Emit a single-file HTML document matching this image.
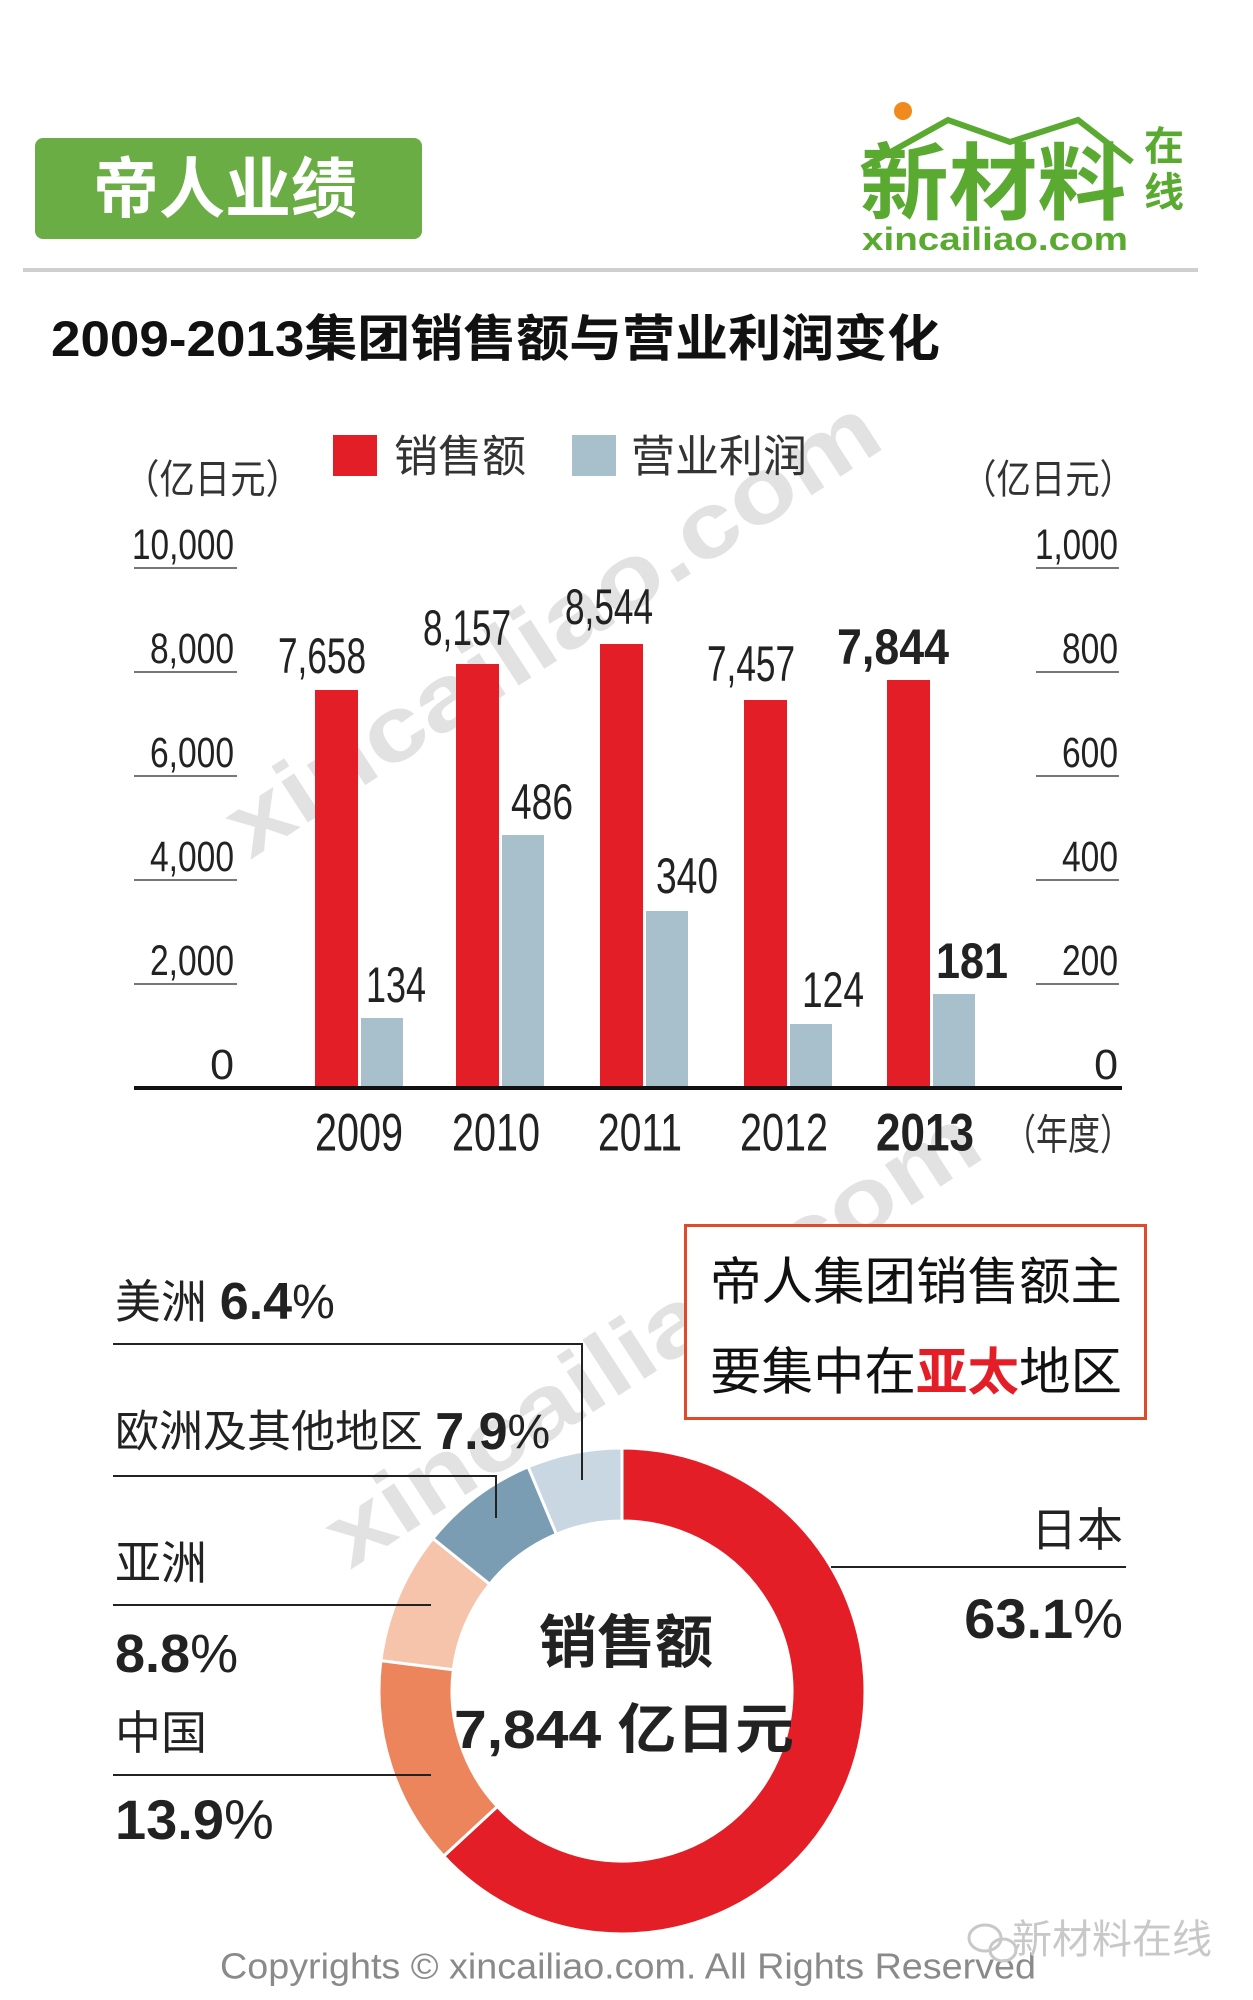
<!DOCTYPE html>
<html><head><meta charset="utf-8"><style>
html,body{margin:0;padding:0;background:#fff;}
svg{display:block;}
text{font-family:"Liberation Sans","Noto Sans CJK SC",sans-serif;}
</style></head><body>
<svg width="1253" height="2000" viewBox="0 0 1253 2000" xmlns="http://www.w3.org/2000/svg">
<rect width="1253" height="2000" fill="#fff"/>
<!-- watermarks -->
<g fill="#e2e2e2" font-weight="bold" font-size="92">
<text x="0" y="0" transform="translate(250,860) rotate(-33)" textLength="760" lengthAdjust="spacingAndGlyphs">xincailiao.com</text>
<text x="0" y="0" transform="translate(350,1570) rotate(-33)" textLength="760" lengthAdjust="spacingAndGlyphs">xincailiao.com</text>
</g>
<!-- header -->
<rect x="35" y="138" width="387" height="101" rx="8" fill="#6aad45"/>
<text x="225" y="189" fill="#fff" font-size="66" font-weight="bold" text-anchor="middle" dominant-baseline="central">帝人业绩</text>
<rect x="23" y="268" width="1175" height="4" fill="#cfcfcf"/>
<!-- logo -->
<polyline points="862,168 948,120 1010,142 1078,120 1132,162" fill="none" stroke="#5aaa32" stroke-width="6"/>
<circle cx="903" cy="111" r="9" fill="#f08a1c"/>
<text x="860" y="213" fill="#5aaa32" font-size="84" font-weight="bold" textLength="266" lengthAdjust="spacingAndGlyphs">新材料</text>
<text x="1164" y="160" fill="#5aaa32" font-size="40" font-weight="bold" text-anchor="middle">在</text>
<text x="1164" y="206" fill="#5aaa32" font-size="40" font-weight="bold" text-anchor="middle">线</text>
<text x="862" y="250" fill="#5aaa32" font-size="32" font-weight="bold" textLength="266" lengthAdjust="spacingAndGlyphs">xincailiao.com</text>
<!-- title -->
<text x="51" y="339" font-size="50" font-weight="bold" fill="#111" dominant-baseline="central" textLength="889" lengthAdjust="spacingAndGlyphs">2009-2013集团销售额与营业利润变化</text>
<!-- legend -->
<rect x="333" y="435" width="44" height="41" fill="#e31e26"/>
<text x="394" y="457" font-size="44" fill="#333" dominant-baseline="central">销售额</text>
<rect x="572" y="435" width="44" height="41" fill="#a8bfcc"/>
<text x="631" y="457" font-size="44" fill="#333" dominant-baseline="central">营业利润</text>
<text x="124" y="480" font-size="40" fill="#333" dominant-baseline="central" textLength="177" lengthAdjust="spacingAndGlyphs">（亿日元）</text>
<text x="962" y="480" font-size="40" fill="#333" dominant-baseline="central" textLength="172" lengthAdjust="spacingAndGlyphs">（亿日元）</text>
<!-- gridlines/ticks -->
<g stroke="#777" stroke-width="2">
<line x1="134" y1="568" x2="237" y2="568"/><line x1="134" y1="672" x2="237" y2="672"/><line x1="134" y1="776" x2="237" y2="776"/><line x1="134" y1="880" x2="237" y2="880"/><line x1="134" y1="984" x2="237" y2="984"/>
<line x1="1036" y1="568" x2="1119" y2="568"/><line x1="1036" y1="672" x2="1119" y2="672"/><line x1="1036" y1="776" x2="1119" y2="776"/><line x1="1036" y1="880" x2="1119" y2="880"/><line x1="1036" y1="984" x2="1119" y2="984"/>
</g>
<g font-size="43" fill="#222" text-anchor="end" dominant-baseline="central">
<text x="234" y="545" textLength="102" lengthAdjust="spacingAndGlyphs">10,000</text>
<text x="234" y="649" textLength="84" lengthAdjust="spacingAndGlyphs">8,000</text>
<text x="234" y="753" textLength="84" lengthAdjust="spacingAndGlyphs">6,000</text>
<text x="234" y="857" textLength="84" lengthAdjust="spacingAndGlyphs">4,000</text>
<text x="234" y="961" textLength="84" lengthAdjust="spacingAndGlyphs">2,000</text>
<text x="234" y="1065">0</text>
<text x="1118" y="545" textLength="83" lengthAdjust="spacingAndGlyphs">1,000</text>
<text x="1118" y="649" textLength="56" lengthAdjust="spacingAndGlyphs">800</text>
<text x="1118" y="753" textLength="56" lengthAdjust="spacingAndGlyphs">600</text>
<text x="1118" y="857" textLength="56" lengthAdjust="spacingAndGlyphs">400</text>
<text x="1118" y="961" textLength="56" lengthAdjust="spacingAndGlyphs">200</text>
<text x="1118" y="1065">0</text>
</g>
<!-- bars -->
<g fill="#e31e26">
<rect x="315" y="690" width="43" height="398"/>
<rect x="456" y="664" width="43" height="424"/>
<rect x="600" y="644" width="43" height="444"/>
<rect x="744" y="700" width="43" height="388"/>
<rect x="887" y="680" width="43" height="408"/>
</g>
<g fill="#a8bfcc">
<rect x="361" y="1018" width="42" height="70"/>
<rect x="502" y="835" width="42" height="253"/>
<rect x="646" y="911" width="42" height="177"/>
<rect x="790" y="1024" width="42" height="64"/>
<rect x="933" y="994" width="42" height="94"/>
</g>
<rect x="134" y="1086" width="988" height="4" fill="#111"/>
<!-- value labels -->
<g font-size="50" fill="#222" text-anchor="middle" dominant-baseline="central">
<text x="322" y="656" textLength="88" lengthAdjust="spacingAndGlyphs">7,658</text>
<text x="467" y="628" textLength="88" lengthAdjust="spacingAndGlyphs">8,157</text>
<text x="609" y="607" textLength="88" lengthAdjust="spacingAndGlyphs">8,544</text>
<text x="751" y="664" textLength="88" lengthAdjust="spacingAndGlyphs">7,457</text>
<text x="893" y="647" font-weight="bold" textLength="112" lengthAdjust="spacingAndGlyphs">7,844</text>
<text x="396" y="985" textLength="60" lengthAdjust="spacingAndGlyphs">134</text>
<text x="542" y="802" textLength="62" lengthAdjust="spacingAndGlyphs">486</text>
<text x="687" y="876" textLength="62" lengthAdjust="spacingAndGlyphs">340</text>
<text x="833" y="990" textLength="62" lengthAdjust="spacingAndGlyphs">124</text>
<text x="972" y="961" font-weight="bold" textLength="72" lengthAdjust="spacingAndGlyphs">181</text>
</g>
<g font-size="53" fill="#222" text-anchor="middle" dominant-baseline="central">
<text x="359" y="1133" textLength="88" lengthAdjust="spacingAndGlyphs">2009</text>
<text x="496" y="1133" textLength="88" lengthAdjust="spacingAndGlyphs">2010</text>
<text x="640" y="1133" textLength="84" lengthAdjust="spacingAndGlyphs">2011</text>
<text x="784" y="1133" textLength="88" lengthAdjust="spacingAndGlyphs">2012</text>
<text x="925" y="1133" font-weight="bold" textLength="98" lengthAdjust="spacingAndGlyphs">2013</text>
</g>
<text x="1004" y="1135" font-size="42" fill="#333" dominant-baseline="central" textLength="128" lengthAdjust="spacingAndGlyphs">（年度）</text>
<!-- info box -->
<rect x="685.5" y="1225.5" width="460" height="193" fill="#fff" stroke="#e04a2a" stroke-width="3"/>
<text x="710" y="1282" font-size="51" fill="#111" dominant-baseline="central" textLength="412" lengthAdjust="spacingAndGlyphs">帝人集团销售额主</text>
<text x="710" y="1372" font-size="51" fill="#111" dominant-baseline="central" textLength="412" lengthAdjust="spacingAndGlyphs">要集中在<tspan fill="#e31e26" font-weight="bold">亚太</tspan>地区</text>
<!-- donut -->
<g stroke="#fff" stroke-width="3">
<path d="M622,1448 A243,243 0 1 1 443.7,1856.1 L497.3,1806.5 A170,170 0 1 0 622,1521 Z" fill="#e31e26"/>
<path d="M443.7,1856.1 A243,243 0 0 1 380.9,1660.6 L453.3,1669.7 A170,170 0 0 0 497.3,1806.5 Z" fill="#ec845c"/>
<path d="M380.9,1660.6 A243,243 0 0 1 432.9,1538.4 L489.7,1584.2 A170,170 0 0 0 453.3,1669.7 Z" fill="#f5c4ab"/>
<path d="M432.9,1538.4 A243,243 0 0 1 528.2,1466.8 L556.4,1534.2 A170,170 0 0 0 489.7,1584.2 Z" fill="#7b9db3"/>
<path d="M528.2,1466.8 A243,243 0 0 1 622,1448 L622,1521 A170,170 0 0 0 556.4,1534.2 Z" fill="#c8d7e2"/>
</g>
<text x="626" y="1643" font-size="58" font-weight="bold" fill="#222" text-anchor="middle" dominant-baseline="central">销售额</text>
<text x="624" y="1730" font-size="54" font-weight="bold" fill="#222" text-anchor="middle" dominant-baseline="central" textLength="340" lengthAdjust="spacingAndGlyphs">7,844 亿日元</text>
<!-- leader lines -->
<g stroke="#222" stroke-width="2" fill="none">
<polyline points="113,1344 582,1344 582,1480"/>
<polyline points="113,1476 496,1476 496,1518"/>
<line x1="113" y1="1605" x2="431" y2="1605"/>
<line x1="113" y1="1775" x2="431" y2="1775"/>
<line x1="831" y1="1567" x2="1126" y2="1567"/>
</g>
<g fill="#222" dominant-baseline="central">
<text x="115" y="1302" font-size="46">美洲 <tspan font-weight="bold" font-size="52">6.4</tspan><tspan font-size="48">%</tspan></text>
<text x="115" y="1432" font-size="44">欧洲及其他地区 <tspan font-weight="bold" font-size="52">7.9</tspan><tspan font-size="48">%</tspan></text>
<text x="115" y="1563" font-size="46">亚洲</text>
<text x="115" y="1654" font-size="54"><tspan font-weight="bold">8.8</tspan>%</text>
<text x="115" y="1733" font-size="46">中国</text>
<text x="115" y="1819" font-size="56"><tspan font-weight="bold">13.9</tspan>%</text>
<text x="1123" y="1530" font-size="46" text-anchor="end">日本</text>
<text x="1123" y="1618" font-size="56" text-anchor="end"><tspan font-weight="bold">63.1</tspan>%</text>
</g>
<!-- footer -->
<text x="220" y="1966" font-size="36" fill="#8a8a8a" dominant-baseline="central" textLength="816" lengthAdjust="spacingAndGlyphs">Copyrights © xincailiao.com. All Rights Reserved</text>
<g fill="none" stroke="#c8c8c8" stroke-width="3"><ellipse cx="985" cy="1938" rx="16" ry="13"/><ellipse cx="1003" cy="1950" rx="13" ry="11"/></g>
<text x="1012" y="1940" font-size="40" fill="#c8c8c8" dominant-baseline="central">新材料在线</text>
</svg>
</body></html>
